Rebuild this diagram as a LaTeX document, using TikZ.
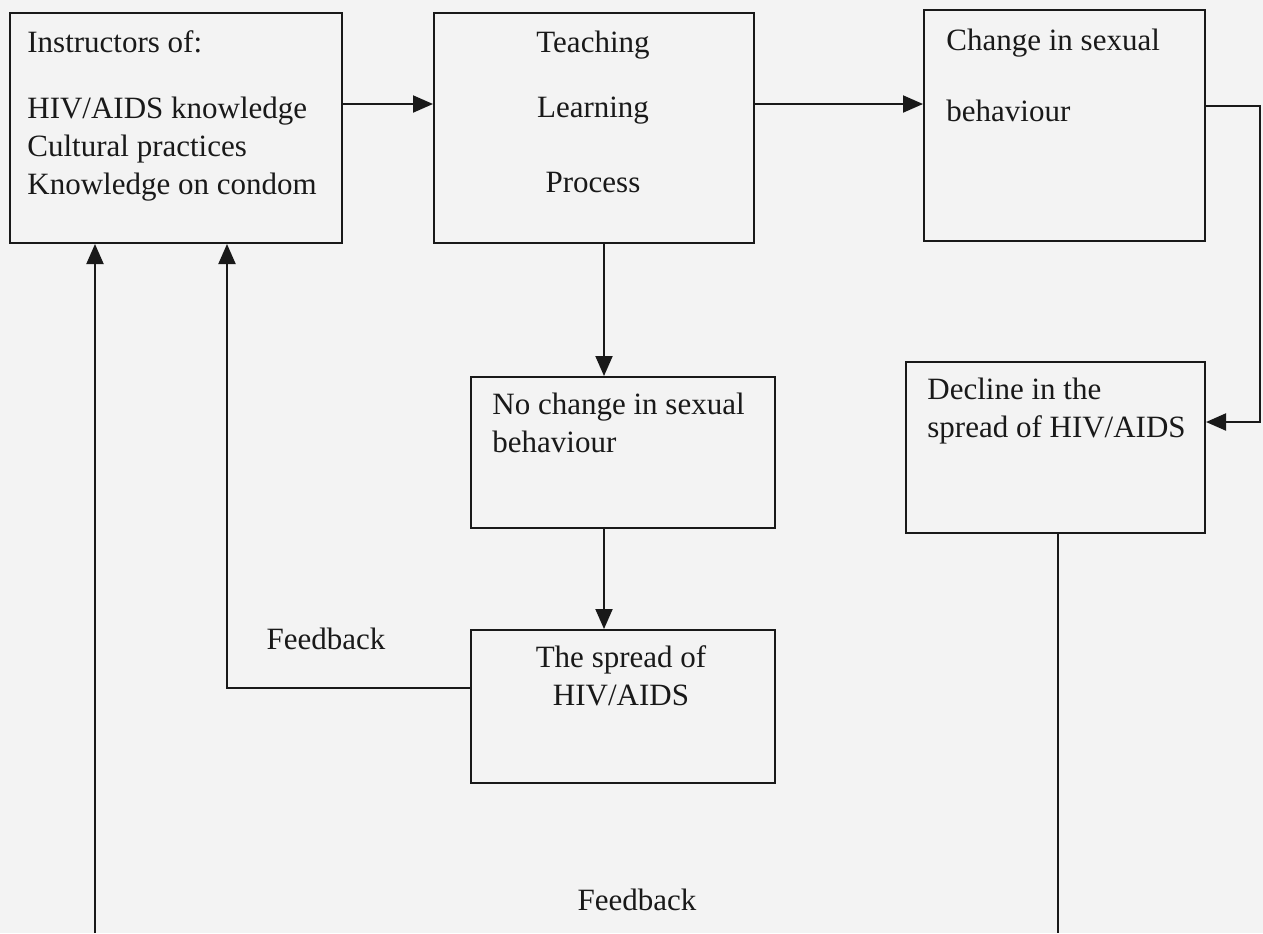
\documentclass[tikz,border=0pt]{standalone}
\usepackage{fontspec}
\setmainfont{Liberation Serif}
\usetikzlibrary{arrows.meta}
\definecolor{paper}{RGB}{243,243,243}
\definecolor{ink}{RGB}{25,25,25}
\tikzset{
diagram/.style={
  x=1pt,y=-1pt
    ,font=\fontsize{15.5}{19}\selectfont
}
,box/.style={draw=ink,line width=1pt,inner sep=0pt}
,boxtext/.style={inner sep=0pt,align=left,anchor=base west,text=ink}
,centertext/.style={boxtext,align=center,anchor=base}
,fbtext/.style={inner sep=0pt,anchor=base,text=ink}
,conn/.style={draw=ink,line width=1pt}
,arr/.style={conn,-{Triangle[length=10pt,width=8.5pt]}}
}

\begin{document}
\begin{tikzpicture}[diagram]
  \fill[paper] (0,0) rectangle (631.5,466.5);
  \useasboundingbox (0,0) rectangle (631.5,466.5);
  % boxes
  \node[box,minimum width=166pt,minimum height=115pt] (instr) at (88,64) {};
  \node[box,minimum width=160pt,minimum height=115pt] (teach) at (297,64) {};
  \node[box,minimum width=140.5pt,minimum height=115.5pt] (change) at (532.25,62.75) {};
  \node[box,minimum width=149.5pt,minimum height=85.5pt] (decline) at (527.75,223.75) {};
  \node[box,minimum width=152pt,minimum height=75.5pt] (nochange) at (311.5,226.25) {};
  \node[box,minimum width=152pt,minimum height=76.5pt] (spread) at (311.5,353.25) {};
  % box texts (placed by their last baseline)
  \node[boxtext] (instrtxt) at (13.5,97) {Instructors of:\\[14pt]
    HIV/AIDS knowledge\\ Cultural practices\\ Knowledge on condom};
  \node[centertext] (teachtxt) at (296.5,96) {Teaching\\[13.5pt] Learning\\[18.5pt] Process};
  \node[boxtext] (changetxt) at (473,60.5) {Change in sexual\\[16.5pt] behaviour};
  \node[boxtext] (declinetxt) at (463.5,218.5) {Decline in the\\ spread of HIV/AIDS};
  \node[boxtext] (nochangetxt) at (246,226) {No change in sexual\\ behaviour};
  \node[centertext] (spreadtxt) at (310.5,352.5) {The spread of\\ HIV/AIDS};
  \node[fbtext] (fbinner) at (163,324.5) {Feedback};
  \node[fbtext] (fbouter) at (318.5,455) {Feedback};
  % connector points
  \coordinate (midx) at (302,0);
  \coordinate (rr) at (630,211);
  \coordinate (fbin) at (113.5,344);
  \coordinate (outl) at (47.5,466.5);
  \coordinate (outr) at (529,466.5);
  % connectors
  \draw[arr] ([yshift=12pt]instr.east) -- ([yshift=12pt]instr.east -| teach.west);
  \draw[arr] ([yshift=12pt]teach.east) -- ([yshift=12pt]teach.east -| change.west);
  \draw[arr] ([yshift=10pt]change.east) -| (rr) -- (rr -| decline.east);
  \draw[arr] (teach.south -| midx) -- (nochange.north -| midx);
  \draw[arr] (nochange.south -| midx) -- (spread.north -| midx);
  \draw[arr] (spread.west |- fbin) -| (instr.south -| fbin);
  \draw[conn] (decline.south -| outr) -- (outr);
  \draw[arr] (outl) -- (instr.south -| outl);
\end{tikzpicture}
\end{document}
